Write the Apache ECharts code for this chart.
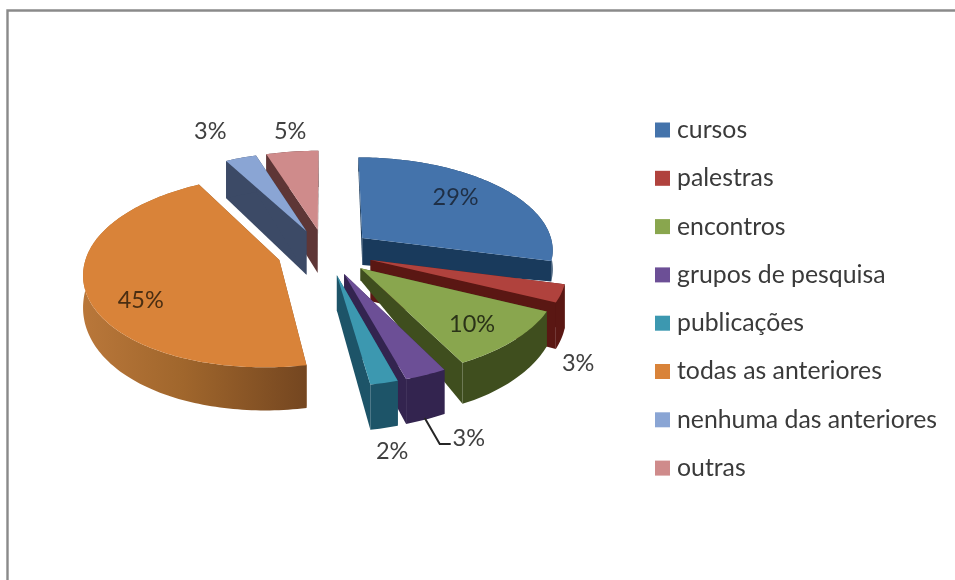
<!DOCTYPE html>
<html>
<head>
<meta charset="utf-8">
<style>html,body{margin:0;padding:0;background:#fff}#c{width:955px;height:580px}</style>
<script src="https://cdn.jsdelivr.net/npm/echarts@6/dist/echarts.min.js"></script>
</head>
<body>
<div id="c"></div>
<script>
// ---- data ----
const categories = ['cursos','palestras','encontros','grupos de pesquisa','publicações','todas as anteriores','nenhuma das anteriores','outras'];
const percents = [29,3,10,3,2,45,3,5];
// ---- styles ----
const topColors = ['#4473ab','#b0423d','#89a64e','#6c4f96','#3c98b0','#d98339','#8aa5d4','#cf8b8b'];
const sideColors = ['#193a5c','#5a1713','#3f4e1e','#33244f','#1d5468','#8a5526','#3c4a66','#5e3636'];
const paintOrder = [7,6,0,1,5,2,3,4];
// projected wall height as a plane a + b*y + c*x for each slice
const depthPlanes = [[31,13,-10],[40,13,0],[5.2,26,13],[33,10,0],[33,10,0],[29,13,0],[45,7,0],[45,7,0]];
const labelDeltas = [[-43.5,11],[17,70],[-42,-16],[43,63],[8,69],[54.5,7],[-30.6,-26],[-2,-20]];
const labelColors = ['#1f2f45','#404040','#2b3318','#404040','#404040','#4a2e12','#404040','#404040'];
const leaderIndex = 3;
const leaderDeltas = [[-1,43],[14,69],[25,69]];
// ---- geometry ----
const CX = 325, CY = 252, R = 192, TILT = 0.484, PERSP = 0.116, EXPLODE = 0.25, SKEW = 7;
const total = percents.reduce((a,b)=>a+b,0);
const starts = []; percents.reduce((acc,v,i)=>{starts[i]=acc;return acc+v;},0);
const ang = p => p/total*Math.PI*2;
function project(x,y){const w=1-PERSP*y;return [CX+R*x/w-SKEW*y*Math.max(0,y), CY+R*TILT*y/w];}
function slicePoints(i){
  const t0=ang(starts[i]), t1=ang(starts[i]+percents[i]), m=(t0+t1)/2;
  const ox=EXPLODE*Math.sin(m), oy=-EXPLODE*Math.cos(m);
  const steps=Math.max(6,Math.round(percents[i]*3)), arc=[];
  for(let k=0;k<=steps;k++){const t=t0+(t1-t0)*k/steps;arc.push([ox+Math.sin(t),oy-Math.cos(t)]);}
  return {apex:[ox,oy],arc,m,ox,oy};
}
function lower(i,w){const d=depthPlanes[i];const p=project(w[0],w[1]);return [p[0],p[1]+d[0]+d[1]*w[1]+d[2]*w[0]];}
function wall(i,list,fill){
  const up=list.map(w=>project(w[0],w[1])), down=list.map(w=>lower(i,w)).reverse();
  return {type:'polygon',shape:{points:up.concat(down)},style:{fill:fill}};
}
function renderSlice(params,api){
  const i=api.value(0), s=slicePoints(i), kids=[];
  const first=s.arc[0], last=s.arc[s.arc.length-1];
  kids.push(wall(i,[s.apex,first],sideColors[i]));
  kids.push(wall(i,[s.apex,last],sideColors[i]));
  const arcFill = i===5 ? new echarts.graphic.LinearGradient(0,0,1,0,[
      {offset:0,color:'#b9773a'},{offset:.45,color:'#a0662c'},{offset:1,color:'#744620'}]) : sideColors[i];
  kids.push(wall(i,s.arc,arcFill));
  const top=[project(s.apex[0],s.apex[1])].concat(s.arc.map(w=>project(w[0],w[1])));
  kids.push({type:'polygon',shape:{points:top},style:{fill:topColors[i]}});
  const mid=project(s.ox+Math.sin(s.m),s.oy-Math.cos(s.m));
  if(i===leaderIndex){
    kids.push({type:'polyline',shape:{points:leaderDeltas.map(q=>[mid[0]+q[0],mid[1]+q[1]])},
      style:{stroke:'#262626',lineWidth:2,fill:null}});
  }
  return {type:'group',children:kids};
}
function renderLabel(params,api){
  const i=api.value(0), s=slicePoints(i);
  const mid=project(s.ox+Math.sin(s.m),s.oy-Math.cos(s.m)), d=labelDeltas[i];
  return {type:'text',z2:100,style:{x:mid[0]+d[0],y:mid[1]+d[1],text:percents[i]+'%',
    font:'23.5px Lato',fill:labelColors[i],align:'center',verticalAlign:'middle'}};
}
const series = paintOrder.map(i=>({
  type:'custom',name:categories[i],coordinateSystem:'none',silent:true,animation:false,
  itemStyle:{color:topColors[i]},data:[[i]],renderItem:renderSlice,z:2
}));
series.push({type:'custom',name:'rotulos',coordinateSystem:'none',silent:true,animation:false,
  data:percents.map((_,i)=>[i]),renderItem:renderLabel,z:5});
const chart = echarts.init(document.getElementById('c'),null,{renderer:'canvas'});
chart.setOption({
  animation:false,backgroundColor:'#ffffff',
  legend:{orient:'vertical',left:655,top:117,padding:0,itemWidth:15,itemHeight:15,itemGap:22.3,icon:'rect',selectedMode:false,
    data:categories,textStyle:{fontFamily:'Lato',fontSize:24.8,color:'#3a3a3a',padding:[0,0,0,2],lineHeight:26}},
  graphic:[{type:'polyline',silent:true,shape:{points:[[7.5,580],[7.5,10.5],[955,10.5]]},style:{stroke:'#8a8a8a',lineWidth:2.4,fill:null}}],
  series:series
});
</script>
</body>
</html>
